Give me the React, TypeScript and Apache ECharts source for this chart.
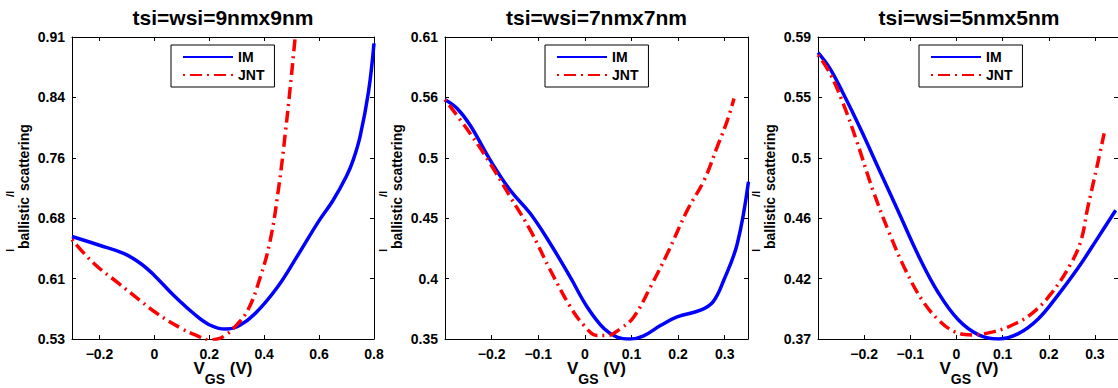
import React, { useEffect, useRef } from 'react';
import * as echarts from 'echarts';

const FONT = "'Liberation Sans', Arial, Helvetica, sans-serif";

// ---------- data ----------
const titles = ['tsi=wsi=9nmx9nm', 'tsi=wsi=7nmx7nm', 'tsi=wsi=5nmx5nm'];
const seriesNames = ['IM', 'JNT'];

const xRange9 = [-0.3, 0.8];
const xRange7 = [-0.3, 0.35];
const xRange5 = [-0.3, 0.35];
const yRange9 = [0.532, 0.912];
const yRange7 = [0.348, 0.608];
const yRange5 = [0.372, 0.592];

const xTicks9 = [-0.2, 0, 0.2, 0.4, 0.6, 0.8];
const xTicks7 = [-0.2, -0.1, 0, 0.1, 0.2, 0.3];
const xTicks5 = [-0.2, -0.1, 0, 0.1, 0.2, 0.3];
const yTicks9 = [0.532, 0.608, 0.684, 0.76, 0.836, 0.912];
const yTicks7 = [0.348, 0.4, 0.452, 0.504, 0.556, 0.608];
const yTicks5 = [0.372, 0.416, 0.46, 0.504, 0.548, 0.592];

// 9nm x 9nm
const im9X = [-0.3, -0.2, -0.11, -0.05, 0, 0.07, 0.14, 0.2, 0.26, 0.31, 0.37, 0.45, 0.52, 0.6, 0.65, 0.7, 0.725, 0.75, 0.78, 0.8];
const im9Y = [0.661, 0.65, 0.6395, 0.627, 0.612, 0.587, 0.565, 0.55, 0.5445, 0.549, 0.565, 0.598, 0.636, 0.681, 0.706, 0.737, 0.758, 0.788, 0.843, 0.904];
const jnt9X = [-0.3, -0.22, -0.13, -0.05, 0.01, 0.1, 0.15, 0.2, 0.23, 0.26, 0.29, 0.34, 0.386, 0.422, 0.453, 0.477, 0.495, 0.513, 0.53];
const jnt9Y = [0.657, 0.627, 0.602, 0.58, 0.564, 0.545, 0.537, 0.531, 0.532, 0.537, 0.546, 0.568, 0.61, 0.656, 0.723, 0.791, 0.849, 0.912, 0.97];

// 7nm x 7nm
const im7X = [-0.3, -0.274, -0.246, -0.203, -0.16, -0.117, -0.074, -0.031, 0.005, 0.041, 0.069, 0.098, 0.125, 0.163, 0.198, 0.248, 0.275, 0.298, 0.327, 0.351];
const im7Y = [0.554, 0.5465, 0.532, 0.502, 0.476, 0.456, 0.43, 0.401, 0.3756, 0.357, 0.3497, 0.348, 0.3505, 0.3598, 0.367, 0.3728, 0.38, 0.3986, 0.43, 0.4833];
const jnt7X = [-0.3, -0.246, -0.203, -0.16, -0.117, -0.074, -0.031, -0.002, 0.0265, 0.048, 0.0766, 0.105, 0.141, 0.177, 0.22, 0.256, 0.284, 0.306, 0.32];
const jnt7Y = [0.554, 0.525, 0.499, 0.4704, 0.4417, 0.4072, 0.3756, 0.3598, 0.351, 0.351, 0.357, 0.367, 0.393, 0.4216, 0.459, 0.4848, 0.5135, 0.5365, 0.555];

// 5nm x 5nm
const im5X = [-0.3, -0.274, -0.2456, -0.21, -0.167, -0.124, -0.081, -0.038, 0.005, 0.048, 0.091, 0.134, 0.177, 0.22, 0.263, 0.306, 0.345];
const im5Y = [0.5806, 0.569, 0.551, 0.5266, 0.495, 0.4634, 0.4318, 0.405, 0.3856, 0.375, 0.372, 0.3759, 0.3866, 0.404, 0.4235, 0.4455, 0.4658];
const jnt5X = [-0.3, -0.274, -0.2456, -0.217, -0.181, -0.145, -0.11, -0.074, -0.038, -0.002, 0.034, 0.077, 0.12, 0.163, 0.205, 0.248, 0.27, 0.284, 0.306, 0.32];
const jnt5Y = [0.5789, 0.5655, 0.5436, 0.517, 0.4804, 0.4488, 0.422, 0.4002, 0.3856, 0.377, 0.375, 0.377, 0.382, 0.3905, 0.405, 0.427, 0.444, 0.467, 0.4999, 0.5218];

// ---------- layout ----------
const GRID_TOP = 37;
const GRID_H = 302;
const panels = [
  { left: 72, width: 302, xr: xRange9, yr: yRange9, xt: xTicks9, yt: yTicks9, im: [im9X, im9Y], jnt: [jnt9X, jnt9Y], legendLeft: 171 },
  { left: 445, width: 303, xr: xRange7, yr: yRange7, xt: xTicks7, yt: yTicks7, im: [im7X, im7Y], jnt: [jnt7X, jnt7Y], legendLeft: 545 },
  { left: 818, width: 302, xr: xRange5, yr: yRange5, xt: xTicks5, yt: yTicks5, im: [im5X, im5Y], jnt: [jnt5X, jnt5Y], legendLeft: 919 },
];

const zip = (xs: number[], ys: number[]) => xs.map((x, i) => [x, ys[i]]);
const fmt = (v: number) => parseFloat(v.toFixed(2)).toString().replace('-', '\u2212');

let measureCtx: CanvasRenderingContext2D | null = null;
function measure(text: string, size: number) {
  if (!measureCtx) measureCtx = document.createElement('canvas').getContext('2d');
  measureCtx!.font = `bold ${size}px ${FONT}`;
  return measureCtx!.measureText(text).width;
}

type Piece = { text: string; size: number; base: number };
function piecesLabel(pieces: Piece[], cx: number, cy: number, rotation: number) {
  const widths = pieces.map((p) => measure(p.text, p.size));
  const total = widths.reduce((a, b) => a + b, 0);
  let x = -total / 2;
  const children = pieces.map((p, i) => {
    const el = {
      type: 'text',
      x,
      y: p.base - 0.3465 * p.size,
      style: {
        text: p.text,
        font: `bold ${p.size}px ${FONT}`,
        fill: '#000',
        textAlign: 'left',
        textVerticalAlign: 'middle',
      },
    };
    x += widths[i];
    return el;
  });
  return { type: 'group', x: cx, y: cy, rotation, children, silent: true };
}

const axisLabelStyle = { color: '#000', fontWeight: 'bold', fontSize: 14, fontFamily: FONT };
const axisLineStyle = { show: true, onZero: false, lineStyle: { color: '#000', width: 1 } };
const LW = 3.5;

export default function App() {
  const ref = useRef<HTMLDivElement>(null);
  useEffect(() => {
    if (!ref.current) return;
    const chart = echarts.init(ref.current, undefined, { renderer: 'svg' });

    const grid: any[] = [];
    const xAxis: any[] = [];
    const yAxis: any[] = [];
    const series: any[] = [];
    const legend: any[] = [];
    const graphic: any[] = [];

    panels.forEach((p, i) => {
      grid.push({ left: p.left, top: GRID_TOP, width: p.width, height: GRID_H, containLabel: false });
      const common = { type: 'value', gridIndex: i, splitLine: { show: false }, axisLine: axisLineStyle };
      const tick = (vals: number[]) => ({ show: true, inside: true, length: 4, customValues: vals, lineStyle: { color: '#000' } });
      xAxis.push({
        ...common, min: p.xr[0], max: p.xr[1], position: 'bottom',
        axisTick: tick(p.xt),
        axisLabel: { ...axisLabelStyle, margin: 8, customValues: p.xt, formatter: fmt },
      });
      xAxis.push({
        ...common, min: p.xr[0], max: p.xr[1], position: 'top',
        axisTick: tick(p.xt),
        axisLabel: { show: false },
      });
      yAxis.push({
        ...common, min: p.yr[0], max: p.yr[1], position: 'left',
        axisTick: tick(p.yt),
        axisLabel: { ...axisLabelStyle, margin: 7, customValues: p.yt, formatter: fmt },
      });
      yAxis.push({
        ...common, min: p.yr[0], max: p.yr[1], position: 'right',
        axisTick: tick(p.yt),
        axisLabel: { show: false },
      });
      series.push({
        type: 'line', name: seriesNames[0], xAxisIndex: i * 2, yAxisIndex: i * 2,
        data: zip(p.im[0], p.im[1]), symbol: 'none', showSymbol: false, smooth: 0.4, clip: true,
        itemStyle: { color: '#0000ff' },
        lineStyle: { color: '#0000ff', width: LW },
      });
      series.push({
        type: 'line', name: seriesNames[1], xAxisIndex: i * 2, yAxisIndex: i * 2,
        data: zip(p.jnt[0], p.jnt[1]), symbol: 'none', showSymbol: false, smooth: 0.4, clip: true,
        itemStyle: { color: '#ff0000' },
        lineStyle: { color: '#ff0000', width: LW, type: [12, 5, 2, 5], dashOffset: 17 },
      });
      legend.push({
        data: seriesNames, orient: 'vertical', left: p.legendLeft, top: 45,
        itemWidth: 50, itemHeight: 14, itemGap: 4, padding: [5, 10, 5, 11],
        backgroundColor: '#fff', borderColor: '#000', borderWidth: 1, borderRadius: 0,
        selectedMode: false,
        itemStyle: { opacity: 0 },
        textStyle: { color: '#000', fontWeight: 'bold', fontSize: 14, fontFamily: FONT },
      });
      const cx = p.left + p.width / 2;
      const cy = GRID_TOP + GRID_H / 2;
      graphic.push({
        type: 'text', x: cx, y: 17.6, silent: true,
        style: { text: titles[i], font: `bold 21px ${FONT}`, fill: '#000', textAlign: 'center', textVerticalAlign: 'middle' },
      });
      // y-axis title: I_ballistic / I_scattering
      graphic.push(piecesLabel([
        { text: 'I', size: 10, base: -8 },
        { text: 'ballistic', size: 14, base: 7 },
        { text: '/', size: 11, base: -8 },
        { text: 'I', size: 10, base: -8 },
        { text: 'scattering', size: 14, base: 7 },
      ], p.left - 50, cy, Math.PI / 2));
      // x-axis title: V_GS (V)
      graphic.push(piecesLabel([
        { text: 'V', size: 17, base: 374 },
        { text: 'GS', size: 14, base: 384 },
        { text: ' (V)', size: 17, base: 374 },
      ], cx, 0, 0));
    });

    chart.setOption({
      animation: false,
      backgroundColor: '#fff',
      grid, xAxis, yAxis, series, legend, graphic,
    });
    return () => chart.dispose();
  }, []);
  return <div ref={ref} style={{ position: 'absolute', left: 0, top: 0, width: 1118, height: 388 }} />;
}
